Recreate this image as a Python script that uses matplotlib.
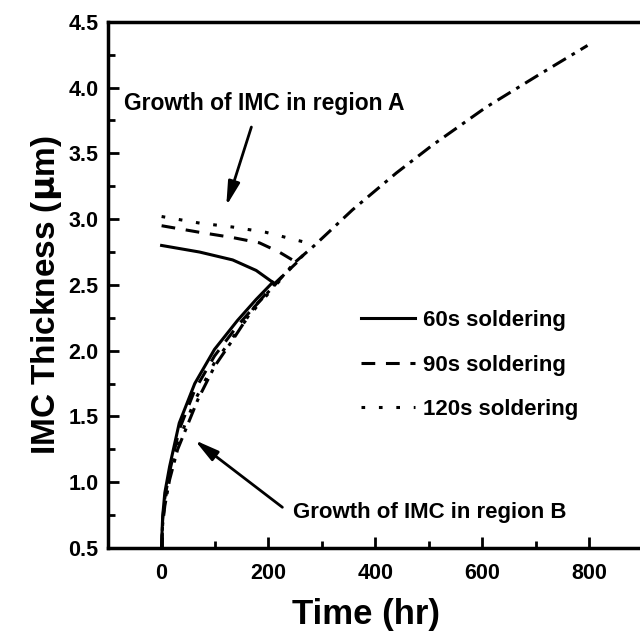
import matplotlib
matplotlib.use("Agg")
import matplotlib.pyplot as plt
from matplotlib.ticker import MultipleLocator

plt.rcParams['font.family'] = ['Liberation Sans', 'DejaVu Sans']
plt.rcParams['font.weight'] = 'bold'

# master growth curve (dash-dot)
t_master = [0, 2, 6, 15, 30, 47, 68, 99, 136, 173, 212, 249, 286, 357, 439, 506, 607, 707, 797]
y_master = [0.5, 0.68, 0.82, 1.02, 1.25, 1.42, 1.63, 1.88, 2.10, 2.33, 2.50, 2.67, 2.80, 3.07, 3.35, 3.56, 3.85, 4.10, 4.32]

# 60s soldering: region A (decreasing) and region B (growth)
t60_a = [0, 71, 133, 177, 208]
y60_a = [2.80, 2.75, 2.69, 2.61, 2.52]
t60_b = [0, 1, 2, 6, 15, 33, 62, 99, 142, 177, 208]
y60_b = [0.5, 0.64, 0.74, 0.92, 1.12, 1.45, 1.75, 2.01, 2.23, 2.39, 2.52]

# 90s soldering
t90_a = [0, 71, 133, 183, 220, 253]
y90_a = [2.95, 2.90, 2.86, 2.82, 2.75, 2.67]
t90_b = [0, 2, 6, 15, 33, 62, 99, 142, 177, 214, 253]
y90_b = [0.5, 0.72, 0.88, 1.08, 1.40, 1.70, 1.96, 2.19, 2.35, 2.52, 2.67]

# 120s soldering
t120_a = [0, 71, 133, 195, 253, 283]
y120_a = [3.02, 2.97, 2.94, 2.90, 2.84, 2.81]
t120_b = [0, 2, 6, 15, 33, 62, 99, 142, 177, 214, 249, 283]
y120_b = [0.5, 0.70, 0.85, 1.05, 1.33, 1.62, 1.91, 2.15, 2.33, 2.50, 2.66, 2.80]

fig = plt.figure(figsize=(6.4, 6.41), dpi=100)
ax = fig.add_axes([0.169, 0.145, 0.835, 0.821])

lw = 2.2
ax.plot(t_master, y_master, color='black', lw=lw, dashes=(5, 2.2, 1.2, 2.2))
l60, = ax.plot(t60_a, y60_a, color='black', lw=lw, ls='-')
ax.plot(t60_b, y60_b, color='black', lw=lw, ls='-')
l90, = ax.plot(t90_a, y90_a, color='black', lw=lw, dashes=(4.5, 3.5))
ax.plot(t90_b, y90_b, color='black', lw=lw, dashes=(4.5, 3.5))
l120, = ax.plot(t120_a, y120_a, color='black', lw=lw, dashes=(1.2, 4.5))
ax.plot(t120_b, y120_b, color='black', lw=lw, dashes=(1.2, 4.5))

ax.legend([l60, l90, l120], ['60s soldering', '90s soldering', '120s soldering'],
          loc='upper left', bbox_to_anchor=(0.435, 0.49), frameon=False,
          handlelength=2.45, labelspacing=1.05, handletextpad=0.36,
          prop={'size': 16, 'weight': 'bold'})

arrow = dict(arrowstyle='-|>,head_length=0.9,head_width=0.22', color='black', lw=2,
             mutation_scale=16, shrinkA=0, shrinkB=0)
ax.annotate('', xy=(121, 3.10), xytext=(168, 3.70), arrowprops=arrow)
ax.text(-70, 3.88, 'Growth of IMC in region A', fontsize=16.5, fontweight='bold', va='center')
ax.annotate('', xy=(62, 1.32), xytext=(226, 0.81), arrowprops=arrow)
ax.text(245, 0.77, 'Growth of IMC in region B', fontsize=16, fontweight='bold', va='center')

ax.set_xlim(-100, 900)
ax.set_ylim(0.5, 4.5)
ax.xaxis.set_major_locator(MultipleLocator(200))
ax.xaxis.set_minor_locator(MultipleLocator(100))
ax.yaxis.set_major_locator(MultipleLocator(0.5))
ax.yaxis.set_minor_locator(MultipleLocator(0.25))
ax.tick_params(which='both', direction='in', width=2, labelsize=15.5)
ax.tick_params(axis='y', pad=7)
ax.tick_params(axis='x', pad=11)
ax.tick_params(which='major', length=8)
ax.tick_params(which='minor', length=5)
ax.tick_params(top=False, right=False, which='both')
ax.set_yticklabels([f'{v:.1f}' for v in ax.get_yticks()], fontweight='bold')
for s in ['left', 'bottom', 'top']:
    ax.spines[s].set_linewidth(2.5)
ax.spines['right'].set_visible(False)
for lab in ax.get_xticklabels():
    lab.set_fontweight('bold')

ax.set_xlabel('Time (hr)', fontsize=25, fontweight='bold')
ax.set_ylabel('IMC Thickness ($\\mathbf{\\mu}$m)', fontsize=24, fontweight='bold')
ax.xaxis.set_label_coords(0.483, -0.095)
ax.yaxis.set_label_coords(-0.082, 0.48)

fig.savefig('out.png', dpi=100)
